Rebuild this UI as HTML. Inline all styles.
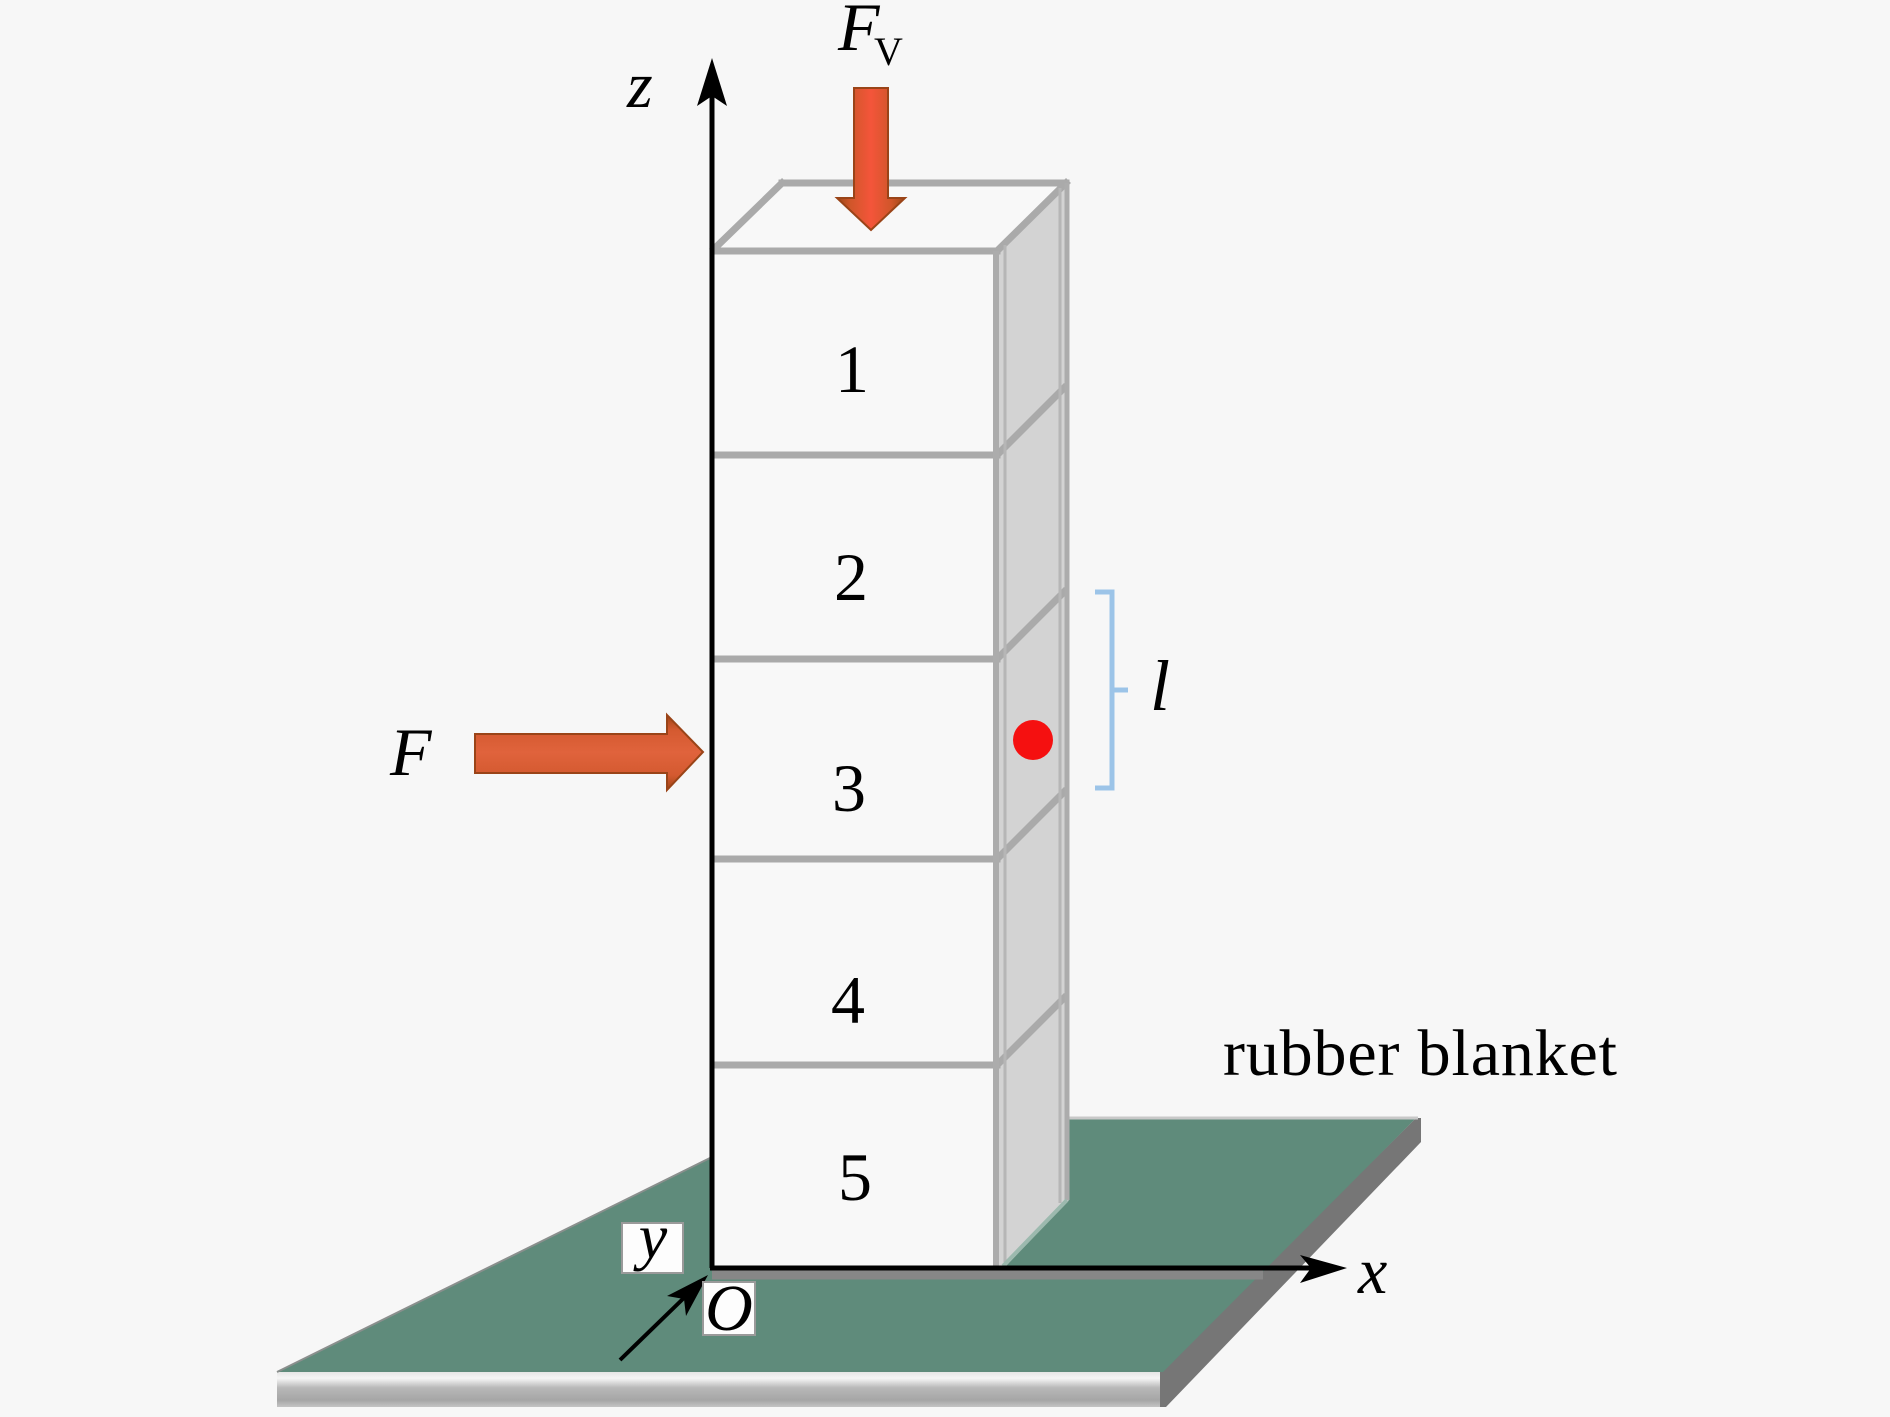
<!DOCTYPE html>
<html>
<head>
<meta charset="utf-8">
<style>
  html, body { margin: 0; padding: 0; background: #f7f7f7; }
  svg { display: block; }
  text { font-family: "Liberation Serif", "DejaVu Serif", serif; fill: #000; }
  .it { font-style: italic; }
</style>
</head>
<body>
<svg width="1890" height="1417" viewBox="0 0 1890 1417" xmlns="http://www.w3.org/2000/svg">
  <defs>
    <linearGradient id="slab" x1="0" y1="0" x2="0" y2="1">
      <stop offset="0" stop-color="#e6e6e6"/>
      <stop offset="0.18" stop-color="#f6f6f6"/>
      <stop offset="0.45" stop-color="#b8b8b8"/>
      <stop offset="0.8" stop-color="#a6a6a6"/>
      <stop offset="1" stop-color="#c4c4c4"/>
    </linearGradient>
    <linearGradient id="arrV" x1="0" y1="0" x2="1" y2="0">
      <stop offset="0" stop-color="#9c4818"/>
      <stop offset="0.2" stop-color="#d0562a"/>
      <stop offset="0.5" stop-color="#f4553a"/>
      <stop offset="0.8" stop-color="#d0562a"/>
      <stop offset="1" stop-color="#9c4818"/>
    </linearGradient>
    <linearGradient id="arrH" x1="0" y1="0" x2="0" y2="1">
      <stop offset="0" stop-color="#a04414"/>
      <stop offset="0.2" stop-color="#d45a30"/>
      <stop offset="0.5" stop-color="#e0633c"/>
      <stop offset="0.8" stop-color="#d45a30"/>
      <stop offset="1" stop-color="#a04414"/>
    </linearGradient>
  </defs>

  <rect x="0" y="0" width="1890" height="1417" fill="#f7f7f7"/>

  <!-- Rubber blanket (mat) -->
  <rect x="277" y="1372" width="886" height="35" fill="url(#slab)"/>
  <polygon points="1160,1372 1416,1118 1421,1118 1421,1142 1166,1407 1160,1407" fill="#767676"/>
  <polygon points="277,1372 1163,1372 1416,1118 791,1118" fill="#5f8b7b"/>
  <line x1="1064" y1="1118" x2="1418" y2="1118" stroke="#c8c8c8" stroke-width="3"/>
  <line x1="277" y1="1372" x2="712" y2="1157" stroke="#8a8f8d" stroke-width="2"/>

  <!-- Box: side face -->
  <polygon points="997,251 1066,183 1069,183 1069,1200 1006,1266 997,1268" fill="#d3d3d3"/>
  <!-- Box: top face -->
  <polygon points="712,251 782,183 1066,183 997,251" fill="#f8f8f8"/>
  <!-- Box: front face -->
  <rect x="712" y="251" width="285" height="1017" fill="#f8f8f8"/>

  <!-- Box lines -->
  <g stroke="#aaaaaa" stroke-width="7" fill="none" stroke-linecap="square">
    <line x1="715" y1="251" x2="997" y2="251"/>
    <line x1="782" y1="183" x2="1066" y2="183"/>
    <line x1="714" y1="249" x2="782" y2="183"/>
    <line x1="997" y1="251" x2="1066" y2="183"/>
    <line x1="715" y1="455" x2="997" y2="455"/>
    <line x1="715" y1="659" x2="997" y2="659"/>
    <line x1="715" y1="859" x2="997" y2="859"/>
    <line x1="715" y1="1065" x2="997" y2="1065"/>
    <line x1="997" y1="455" x2="1064" y2="388"/>
    <line x1="997" y1="659" x2="1064" y2="592"/>
    <line x1="997" y1="859" x2="1064" y2="792"/>
    <line x1="997" y1="1065" x2="1064" y2="998"/>
  </g>
  <g stroke="#acacac" fill="none">
    <line x1="996" y1="251" x2="996" y2="1268" stroke-width="6"/>
    <line x1="1005" y1="245" x2="1005" y2="1262" stroke-width="3" stroke="#b6b6b6"/>
    <line x1="1060" y1="188" x2="1060" y2="1203" stroke-width="3" stroke="#b6b6b6"/>
    <line x1="1067" y1="183" x2="1067" y2="1200" stroke-width="5"/>
    <line x1="1067" y1="1200" x2="1003" y2="1266" stroke-width="4" stroke="#9cb9ae"/>
  </g>

  <!-- shadow band under x axis -->
  <line x1="712" y1="1275" x2="1263" y2="1275" stroke="#878787" stroke-width="9"/>

  <!-- Axes -->
  <line x1="712" y1="1268" x2="712" y2="92" stroke="#000" stroke-width="5"/>
  <polygon points="712,58 727,106 712,96 697,106" fill="#000"/>
  <line x1="710" y1="1268" x2="1315" y2="1268" stroke="#000" stroke-width="5"/>
  <polygon points="1347,1268 1300,1283 1311,1268 1300,1255" fill="#000"/>
  <line x1="620" y1="1360" x2="688" y2="1294" stroke="#000" stroke-width="4"/>
  <polygon points="708,1275 686,1316 684,1299 667,1296" fill="#000"/>

  <!-- Label boxes -->
  <rect x="622" y="1223" width="61" height="50" fill="#fdfdfd" stroke="#9a9a9a" stroke-width="2"/>
  <rect x="703" y="1282" width="52" height="53" fill="#fdfdfd" stroke="#9a9a9a" stroke-width="2"/>
  <text class="it" x="653" y="1258" font-size="64" text-anchor="middle">y</text>
  <text class="it" x="729" y="1330" font-size="66" text-anchor="middle">O</text>

  <!-- Force arrows -->
  <polygon points="854,88 888,88 888,198 905,198 871,230 837,198 854,198" fill="url(#arrV)" stroke="#9a4418" stroke-width="2"/>
  <polygon points="475,734 667,734 667,715 703,752 667,790 667,773 475,773" fill="url(#arrH)" stroke="#9a4418" stroke-width="2"/>

  <!-- Red dot -->
  <circle cx="1033" cy="740" r="20" fill="#f51010"/>

  <!-- Bracket -->
  <polyline points="1095,592 1112,592 1112,788 1095,788" fill="none" stroke="#9cc4e8" stroke-width="5"/>
  <line x1="1112" y1="690" x2="1128" y2="690" stroke="#9cc4e8" stroke-width="5"/>

  <!-- Labels -->
  <text class="it" x="627" y="107" font-size="66">z</text>
  <text class="it" x="838" y="50" font-size="68">F</text>
  <text x="874" y="65" font-size="40">V</text>
  <text class="it" x="390" y="775" font-size="68">F</text>
  <text class="it" x="1150" y="710" font-size="72">l</text>
  <text class="it" x="1358" y="1293" font-size="66">x</text>
  <text x="1223" y="1075" font-size="66" textLength="394" lengthAdjust="spacing">rubber blanket</text>

  <!-- Block numbers -->
  <text x="852" y="392" font-size="68" text-anchor="middle">1</text>
  <text x="851" y="600" font-size="68" text-anchor="middle">2</text>
  <text x="849" y="811" font-size="68" text-anchor="middle">3</text>
  <text x="848" y="1023" font-size="68" text-anchor="middle">4</text>
  <text x="855" y="1200" font-size="68" text-anchor="middle">5</text>
</svg>
</body>
</html>
